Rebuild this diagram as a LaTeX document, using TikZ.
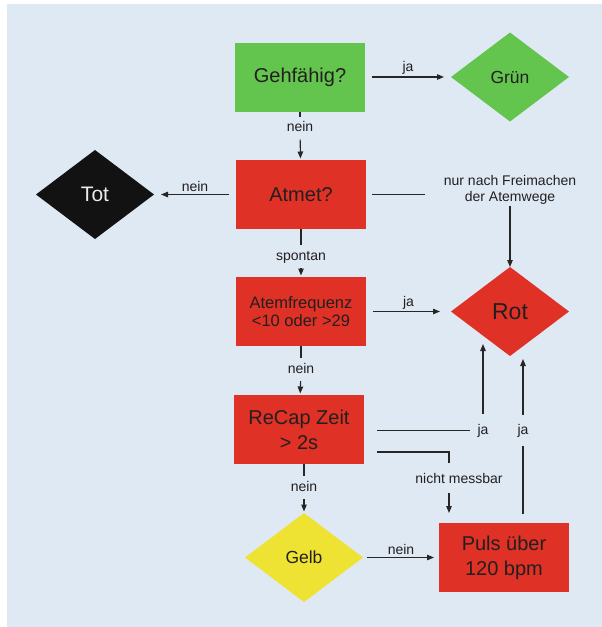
\documentclass[tikz,border=0pt]{standalone}
\usepackage{fontspec}
\setmainfont{Liberation Sans}
\usetikzlibrary{arrows.meta,shapes.geometric}
\definecolor{hinter}{HTML}{DFE9F4}
\definecolor{ampelgruen}{HTML}{63C54E}
\definecolor{ampelrot}{HTML}{DF3125}
\definecolor{ampelgelb}{HTML}{EEE233}
\definecolor{schrift}{HTML}{231F20}
\definecolor{linie}{HTML}{262626}

\begin{document}
\begin{tikzpicture}[
  x=1pt, y=-1pt,
  every node/.style={text=schrift, outer sep=0pt},
  box/.style={rectangle, minimum width=130pt, minimum height=69pt, inner sep=0pt, align=center, font=\fontsize{20}{25}\selectfont},
  raute/.style={diamond, minimum width=118pt, minimum height=89pt, inner sep=0pt, align=center, font=\fontsize{17.5}{21}\selectfont},
  lab/.style={font=\fontsize{14}{16}\selectfont, inner sep=2.5pt},
  vlab/.style={lab, text height=10pt, text depth=3pt, inner xsep=2pt, inner ysep=5pt},
  seg/.style={line width=1.1pt, draw=linie},
  arrow/.style={seg, -{Triangle[length=7pt,width=5.5pt]}, shorten >=1.5pt},
  quer/.style={arrow, shorten <=7pt, shorten >=7pt}
]

\fill[hinter] (7,4) rectangle (602,627);
\useasboundingbox (0,0) rectangle (602,627);

\node (geh) [box, fill=ampelgruen] at (300,77) {Gehfähig?};
\node (gruen) [raute, fill=ampelgruen] at (510,77) {Grün};
\node (tot) [raute, fill=black!93, text=white!92!black, font=\fontsize{21}{25}\selectfont] at (95,194.5) {Tot};
\node (atmet) [box, fill=ampelrot] at (301,194.5) {Atmet?};
\node (rot) [raute, fill=ampelrot, font=\fontsize{23}{27}\selectfont] at (510,311.5) {Rot};
\node (afreq) [box, fill=ampelrot, font=\fontsize{16.5}{18.5}\selectfont] at (301,311.5) {Atemfrequenz\\<10 oder >29};
\node (recap) [box, fill=ampelrot] at (299,429.5) {ReCap Zeit\\> 2s};
\node (gelb) [raute, fill=ampelgelb] at (304,557.5) {Gelb};
\node (puls) [box, fill=ampelrot] at (504,557.5) {Puls über\\120 bpm};

\node (lnein1) [vlab] at (300,128) {nein};
\node (lspontan) [vlab] at (301,256.5) {spontan};
\node (lnein2) [vlab] at (301,369.5) {nein};
\node (lnein3) [vlab] at (304,487.5) {nein};
\node (lfrei) [lab, align=center, inner xsep=19pt, inner ysep=1pt] at (510,190) {nur nach Freimachen\\der Atemwege};
\node (lja1) [lab, inner xsep=8pt, inner ysep=10pt] at (483,430.5) {ja};
\node (lja2) [lab, inner xsep=8pt, inner ysep=9pt] at (523,430.5) {ja};
\node (lmess) [lab, inner ysep=10pt] at (459,478) {nicht messbar};

\coordinate (rotein1) at ([xshift=-27pt,yshift=12pt]rot.south);
\coordinate (rotein2) at ([xshift=13pt,yshift=-3pt]rot.south);

\draw[quer] (geh) -- node[lab, above] {ja} (gruen);
\draw[quer] (atmet) -- node[lab, above] {nein} (tot);
\draw[quer, shorten >=11pt] (afreq) -- node[lab, above] {ja} (rot);
\draw[quer, shorten <=4pt, shorten >=5pt] (gelb) -- node[lab, above] {nein} (puls);

\draw[seg] (geh) -- (lnein1);
\draw[arrow] (lnein1) -- (atmet);
\draw[seg] (atmet) -- (lspontan);
\draw[arrow] (lspontan) -- (afreq);
\draw[seg] (afreq) -- (lnein2);
\draw[arrow] (lnein2) -- (recap);
\draw[seg] (recap.south -| lnein3) -- (lnein3);
\draw[arrow] (lnein3) -- (gelb);

\draw[seg, shorten <=6pt] (atmet.east) -- (atmet.east -| lfrei.west);
\draw[arrow, shorten >=0pt] (lfrei) -- (rot);

\draw[seg, shorten <=13pt] (recap.east |- lja1) -- (lja1);
\draw[arrow, shorten >=0pt] (lja1) -- (rotein1);
\draw[seg, shorten <=9pt] (puls.north -| lja2) -- (lja2);
\draw[arrow, shorten >=0pt] (lja2) -- (rotein2);

\draw[seg, shorten <=13pt] ([yshift=-22.5pt]recap.east) -| ([xshift=-10pt]lmess.north);
\draw[arrow, shorten >=10pt] ([xshift=-10pt]lmess.south) -- ([xshift=-10pt]lmess.south |- puls.north);

\end{tikzpicture}
\end{document}
